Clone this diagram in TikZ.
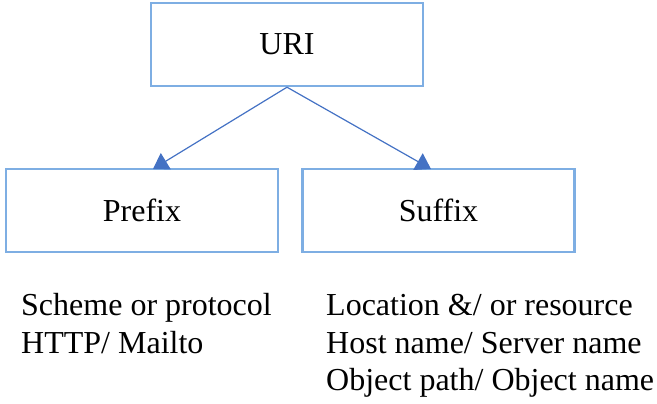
\documentclass[tikz,border=0pt]{standalone}
\usepackage{fontspec}
\setmainfont{Liberation Serif}
\usetikzlibrary{arrows.meta}
\definecolor{boxblue}{HTML}{7EAEE3}
\definecolor{arrowblue}{HTML}{4472C4}
\begin{document}
\begin{tikzpicture}[x=1pt,y=-1pt,
  box/.style={draw=boxblue,line width=2.4pt,minimum width=272pt,minimum height=83pt,inner sep=0pt,font=\fontsize{32}{38}\selectfont},
  conn/.style={draw=arrowblue,line width=1.2pt,-{Triangle[width=19pt,length=15pt]}},
  txt/.style={anchor=base west,inner sep=0pt,font=\fontsize{32}{38}\selectfont}]
\useasboundingbox (0,0) rectangle (657,404);
\node[box] (uri) at (287,44.5) {URI};
\node[box] (prefix) at (142,210.5) {Prefix};
\node[box] (suffix) at (438.5,210.5) {Suffix};
\coordinate (pt) at (153,169);
\coordinate (st) at (431,169);
\draw[conn] (uri.south) -- (pt);
\draw[conn] (uri.south) -- (st);
\node[txt] (l1) at (21,315) {Scheme or protocol};
\node[txt] (l2) at (21,353) {HTTP/ Mailto};
\node[txt] (r1) at (326,315) {Location \&/ or resource};
\node[txt] (r2) at (326,353) {Host name/ Server name};
\node[txt] (r3) at (326,390) {Object path/ Object name};
\end{tikzpicture}
\end{document}
